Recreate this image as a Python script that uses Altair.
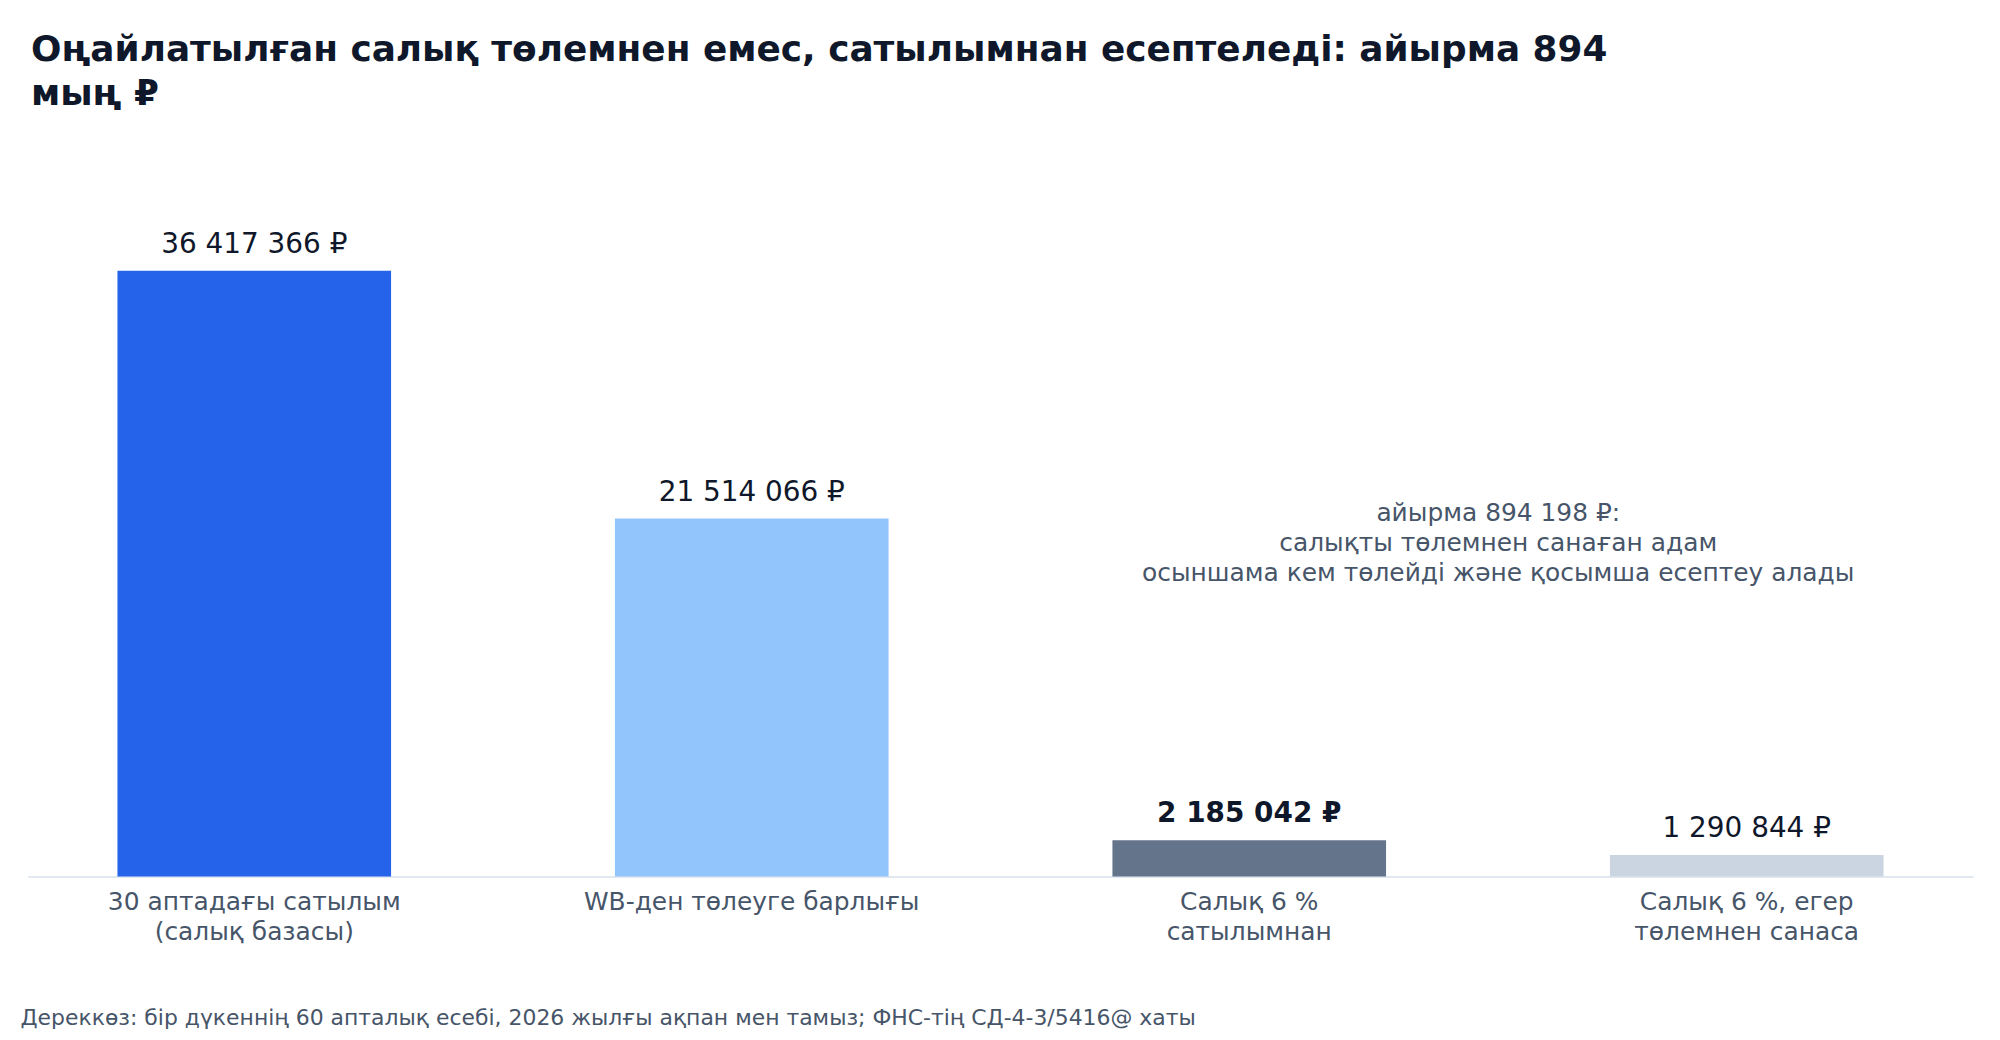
import pandas as pd
import altair as alt

# values
categories = [
    "30 аптадағы сатылым|(салық базасы)",
    "WB-ден төлеуге барлығы",
    "Салық 6 %|сатылымнан",
    "Салық 6 %, егер|төлемнен санаса",
]
values = [36417366, 21514066, 2185042, 1290844]
colors = ["#2563eb", "#93c5fd", "#64748b", "#cbd5e1"]
bold = [False, False, True, False]

title_lines = [
    "Оңайлатылған салық төлемнен емес, сатылымнан есептеледі: айырма 894",
    "мың ₽",
]
note_text = "айырма 894 198 ₽:\nсалықты төлемнен санаған адам\nосыншама кем төлейді және қосымша есептеу алады"
note_category = categories[2]
note_value = 21850000
source = "Дереккөз: бір дүкеннің 60 апталық есебі, 2026 жылғы ақпан мен тамыз; ФНС-тің СД-4-3/5416@ хаты"

df = pd.DataFrame(
    {
        "cat": categories,
        "value": values,
        "color": colors,
        "bold": bold,
        "label": [f"{v:,}".replace(",", " ") + " ₽" for v in values],
    }
)

x = alt.X(
    "cat:N",
    sort=categories,
    scale=alt.Scale(paddingInner=0.45, paddingOuter=0.18),
    axis=alt.Axis(
        title=source,
        titleAnchor="start",
        titleAlign="left",
        titleX=-8,
        titleY=142,
        titleBaseline="middle",
        titleFontSize=22,
        titleFontWeight="normal",
        titleColor="#475569",
        labelExpr="split(datum.label, '|')",
        labelAngle=0,
        labelFontSize=25,
        labelLineHeight=30,
        labelColor="#475569",
        labelPadding=13,
        labelLimit=0,
        ticks=False,
        domainColor="#e2e8f0",
        domainWidth=2,
    ),
)
y = alt.Y(
    "value:Q",
    scale=alt.Scale(domain=[0, 43700000]),
    axis=None,
)

base = alt.Chart(df)

bars = base.mark_bar().encode(x=x, y=y, color=alt.Color("color:N", scale=None))

labels = base.transform_filter("!datum.bold").mark_text(
    baseline="alphabetic", dy=-18, fontSize=28, color="#0f172a"
).encode(x=x, y=y, text="label:N")

labels_bold = base.transform_filter("datum.bold").mark_text(
    baseline="alphabetic", dy=-18, fontSize=28, fontWeight="bold", color="#0f172a"
).encode(x=x, y=y, text="label:N")

note = (
    alt.Chart(pd.DataFrame({"cat": [note_category], "value": [note_value], "t": [note_text]}))
    .mark_text(
        baseline="middle",
        align="center",
        dx=250,
        fontSize=25,
        lineHeight=30,
        lineBreak="\n",
        color="#475569",
    )
    .encode(x=x, y=y, text="t:N")
)

chart = (
    alt.layer(bars, labels, labels_bold, note)
    .properties(
        width=1953,
        height=730,
        autosize=alt.AutoSizeParams(type="none"),
        padding={"left": 20, "top": 140, "right": 19, "bottom": 154},
        title=alt.TitleParams(
            text=title_lines,
            anchor="start",
            fontSize=36,
            fontWeight="bold",
            color="#0f172a",
            lineHeight=44,
            offset=37,
            dx=11,
        ),
    )
    .configure(font="DejaVu Sans")
    .configure_view(stroke=None)
)

chart.save("out.html", embed_options={"renderer": "svg", "actions": False})
